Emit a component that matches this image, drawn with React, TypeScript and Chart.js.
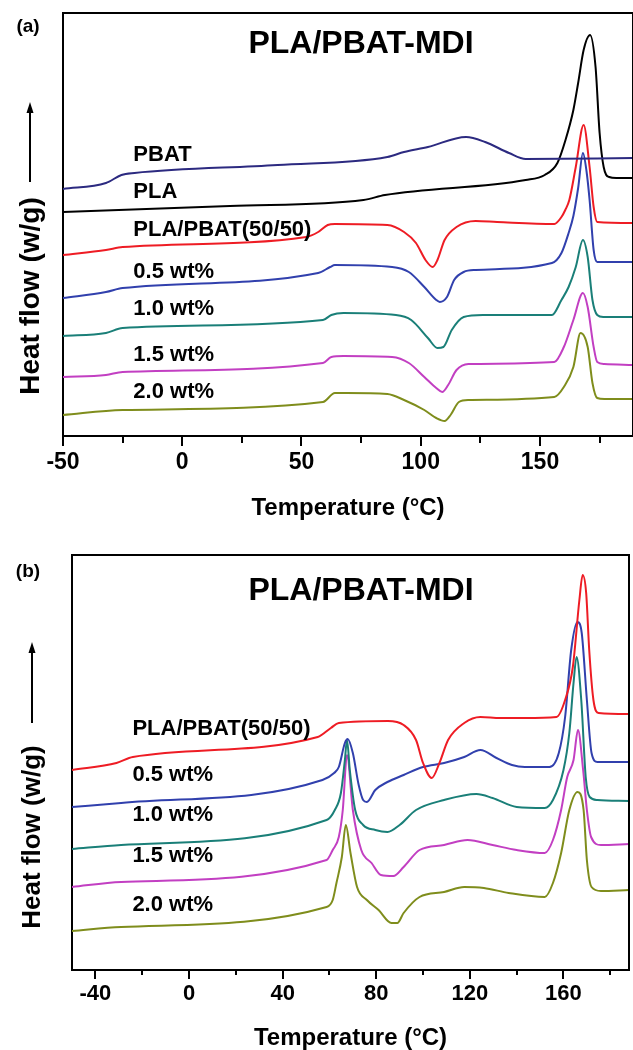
import React, { useEffect, useRef } from "react";
import { Chart, registerables } from "chart.js";

Chart.register(...registerables);

const FONT = "'Liberation Sans', Arial, Helvetica, sans-serif";

// ---------------- Panel (a): heat flow (arbitrary, offset curves) vs temperature (°C)
const A_PBAT_T = [-50, -32, -25.5, -20, 40, 86, 93, 103, 119, 127, 137, 144, 189];
const A_PBAT_H = [24.7, 25.3, 26.1, 26.3, 27.1, 27.9, 28.4, 28.9, 29.9, 29.4, 28.3, 27.7, 27.8];

const A_PLA_T = [-50, 20, 76, 85, 144, 152, 157.3, 160.7, 164, 166, 168.3, 171, 173.3, 175, 176.7, 179, 182, 189];
const A_PLA_H = [22.4, 23.0, 23.6, 24.1, 25.6, 26.1, 27.3, 29.6, 32.6, 35.3, 38.6, 40.1, 36.9, 30.3, 26.9, 25.9, 25.8, 25.8];

const A_BLEND_T = [-50, -32, -25, 52, 57, 61, 64, 86, 93, 98, 102, 105, 107, 110, 115, 123, 132, 156, 159, 160.6, 162.3, 165, 168.3, 170.8, 172.5, 174, 189];
const A_BLEND_H = [18.1, 18.6, 18.9, 19.9, 20.4, 21.1, 21.2, 21.1, 20.4, 19.3, 17.6, 16.9, 17.6, 19.6, 20.9, 21.5, 21.4, 21.2, 21.9, 22.6, 23.6, 26.9, 31.1, 26.9, 22.9, 21.4, 21.3];

const A_W05_T = [-50, -32, -25, 57, 62, 64, 88, 95, 101.5, 106.5, 108, 111, 114, 118, 123, 155, 159, 162, 164, 166, 168, 169.5, 170.8, 172.5, 174, 189];
const A_W05_H = [13.8, 14.4, 14.8, 16.3, 16.9, 17.1, 16.9, 16.4, 14.9, 13.6, 13.4, 13.9, 15.6, 16.4, 16.6, 17.3, 18.3, 20.3, 22.0, 24.8, 28.3, 26.5, 23.6, 18.6, 17.4, 17.4];

const A_W10_T = [-50, -32, -25, 59, 62.5, 67.6, 89.6, 96, 103, 107, 109.5, 113, 118, 126, 155, 159, 162, 165, 168, 170, 172, 174, 176.5, 189];
const A_W10_H = [10.0, 10.3, 10.8, 11.6, 12.1, 12.3, 12.1, 11.6, 9.8, 8.8, 8.9, 10.6, 11.9, 12.1, 12.1, 13.6, 14.9, 16.9, 19.6, 17.9, 13.6, 12.1, 11.9, 11.9];

const A_W15_T = [-50, -32, -25, 59, 62.5, 67.6, 88, 95, 101.5, 106.5, 109, 111.5, 115, 120, 156, 160, 164, 168, 170, 172.5, 174, 177, 189];
const A_W15_H = [5.9, 6.1, 6.4, 7.3, 7.9, 8.0, 7.9, 7.3, 5.9, 4.8, 4.4, 5.1, 6.6, 7.2, 7.4, 8.9, 11.6, 14.3, 12.9, 8.9, 7.4, 7.2, 7.1];

const A_W20_T = [-50, -25, 59, 64, 69, 86, 93, 101.5, 106.5, 110, 112.5, 116, 120, 156, 160, 164, 167, 170, 172, 174, 177, 189];
const A_W20_H = [2.1, 2.6, 3.4, 4.3, 4.3, 4.2, 3.6, 2.6, 1.8, 1.5, 2.1, 3.4, 3.6, 3.9, 4.9, 6.9, 10.3, 8.9, 5.3, 3.8, 3.7, 3.7];

const A_LABELS = ["PBAT", "PLA", "PLA/PBAT(50/50)", "0.5 wt%", "1.0 wt%", "1.5 wt%", "2.0 wt%"];
const A_X_MAJOR = 50;
const A_X_STEP = 25;

// ---------------- Panel (b)
const B_BLEND_T = [-50, -31, -24, 55, 60.6, 64, 85, 91.7, 97, 100, 103.7, 107, 110.7, 117.6, 124.5, 133, 143.5, 157, 160.7, 164, 166.8, 168.2, 169.7, 171, 172.8, 175, 188];
const B_BLEND_H = [20.0, 20.7, 21.3, 23.3, 24.2, 24.7, 24.9, 24.5, 23.0, 20.7, 19.2, 20.7, 23.0, 24.7, 25.3, 25.2, 25.2, 25.3, 27.0, 30.3, 37.0, 39.5, 37.7, 32.0, 27.0, 25.7, 25.6];

const B_W05_T = [-50, -29, 57, 62, 64, 66.6, 67.8, 70, 72.5, 74.4, 76, 79.6, 84.8, 91.7, 100, 109, 117.6, 124.5, 131.4, 138, 143.5, 154, 158, 160.7, 163.3, 166, 167.8, 170, 172, 174.5, 188];
const B_W05_H = [16.3, 16.7, 19.0, 19.7, 20.3, 22.7, 23.1, 21.7, 18.5, 17.0, 16.8, 18.0, 18.8, 19.5, 20.3, 20.7, 21.3, 22.0, 21.2, 20.5, 20.3, 20.3, 21.7, 25.3, 32.0, 34.8, 33.7, 27.0, 21.7, 20.8, 20.8];

const B_W10_T = [-50, -29, 58.8, 62.3, 64.9, 66.6, 67.5, 68.7, 71, 74.4, 79.6, 84.8, 90, 97, 109, 122.8, 129.7, 140, 152, 155.5, 160, 162.5, 164.3, 165.6, 167.6, 169.5, 171.2, 174.5, 188];
const B_W10_H = [12.1, 12.5, 15.0, 16.0, 17.7, 21.0, 23.0, 20.0, 16.0, 14.5, 14.0, 13.8, 14.5, 16.0, 17.0, 17.6, 17.2, 16.3, 16.2, 17.0, 20.0, 23.7, 28.7, 31.3, 27.0, 19.3, 17.3, 17.0, 16.9];

const B_W15_T = [-50, -29, 58.8, 61.4, 64, 65.7, 67.5, 70, 73.6, 78, 82, 87.3, 91.7, 98.5, 109, 119, 129.7, 140, 152, 155.5, 159, 161.6, 164.3, 166.2, 168.4, 170, 171.8, 176, 188];
const B_W15_H = [8.3, 8.8, 11.0, 12.0, 13.3, 16.0, 21.5, 16.0, 12.0, 10.7, 9.5, 9.4, 10.3, 12.0, 12.5, 13.0, 12.5, 12.0, 11.7, 13.0, 16.0, 19.3, 21.0, 24.0, 20.0, 16.0, 13.3, 12.5, 12.6];

const B_W20_T = [-50, -29, 58.8, 61.4, 63, 65.3, 67, 69, 71.8, 76, 81, 86.5, 89, 91.7, 98.5, 109, 117.6, 126, 136.6, 152, 155.5, 159, 162.5, 166, 168.6, 170, 172, 176, 188];
const B_W20_H = [3.9, 4.3, 6.3, 7.0, 8.7, 11.3, 14.5, 11.7, 8.3, 7.0, 6.0, 4.7, 4.7, 5.7, 7.3, 7.8, 8.3, 8.2, 7.7, 7.3, 8.7, 11.7, 16.0, 17.8, 16.0, 11.0, 8.3, 7.9, 8.0];

const B_LABELS = ["PLA/PBAT(50/50)", "0.5 wt%", "1.0 wt%", "1.5 wt%", "2.0 wt%"];
const B_X_MAJOR = 40;
const B_X_STEP = 20;

const TITLE = "PLA/PBAT-MDI";
const X_TITLE = "Temperature (°C)";
const Y_TITLE = "Heat flow (w/g)";

// ---------------- styles / positions (not data)
const C_PBAT = "#2c2a80";
const C_PLA = "#000000";
const C_BLEND = "#ee1c24";
const C_W05 = "#3140ad";
const C_W10 = "#1a7f78";
const C_W15 = "#c23fc2";
const C_W20 = "#7f8d1c";

const A_LABEL_POS = [
  [-20.5, 28.1], [-20.5, 24.4], [-20.5, 20.6], [-20.5, 16.4], [-20.5, 12.7], [-20.5, 8.1], [-20.5, 4.4],
];
const B_LABEL_POS = [
  [-24.2, 24.1], [-24.2, 19.5], [-24.2, 15.5], [-24.2, 11.4], [-24.2, 6.5],
];

const zip = (t: number[], h: number[]) => t.map((x, i) => ({ x, y: h[i] }));

function makeDatasets(series: { t: number[]; h: number[]; label: string; color: string }[]) {
  return series.map((s) => ({
    label: s.label,
    data: zip(s.t, s.h),
    borderColor: s.color,
    backgroundColor: s.color,
    borderWidth: 2,
    pointRadius: 0,
    fill: false,
    cubicInterpolationMode: "monotone" as const,
    tension: 0.4,
  }));
}

const PANEL_A = {
  top: 0,
  height: 530,
  padding: { left: 63, top: 13, right: 0, bottom: 0 },
  xAxisHeight: 94,
  xMin: -50,
  xMax: 189,
  yMax: 42.3,
  step: A_X_STEP,
  major: A_X_MAJOR,
  tickLen: 10,
  minorLen: 7,
  tickFont: 23,
  tickPad: 3,
  xTitlePad: 10,
  letter: "(a)",
  letterPos: [28, 27],
  titlePos: [361, 44],
  yTitlePos: [31, 296],
  yTitleSize: 28,
  arrow: [30, 102, 182],
  labelPos: A_LABEL_POS,
  datasets: makeDatasets([
    { t: A_PBAT_T, h: A_PBAT_H, label: A_LABELS[0], color: C_PBAT },
    { t: A_PLA_T, h: A_PLA_H, label: A_LABELS[1], color: C_PLA },
    { t: A_BLEND_T, h: A_BLEND_H, label: A_LABELS[2], color: C_BLEND },
    { t: A_W05_T, h: A_W05_H, label: A_LABELS[3], color: C_W05 },
    { t: A_W10_T, h: A_W10_H, label: A_LABELS[4], color: C_W10 },
    { t: A_W15_T, h: A_W15_H, label: A_LABELS[5], color: C_W15 },
    { t: A_W20_T, h: A_W20_H, label: A_LABELS[6], color: C_W20 },
  ]),
};

const PANEL_B = {
  top: 530,
  height: 520,
  padding: { left: 72, top: 25, right: 4, bottom: 0 },
  xAxisHeight: 80,
  xMin: -50,
  xMax: 188,
  yMax: 41.5,
  step: B_X_STEP,
  major: B_X_MAJOR,
  tickLen: 9,
  minorLen: 5,
  tickFont: 22,
  tickPad: 2,
  xTitlePad: 0,
  letter: "(b)",
  letterPos: [28, 42],
  titlePos: [361, 61],
  yTitlePos: [33, 307],
  yTitleSize: 26,
  arrow: [32, 112, 193],
  labelPos: B_LABEL_POS,
  datasets: makeDatasets([
    { t: B_BLEND_T, h: B_BLEND_H, label: B_LABELS[0], color: C_BLEND },
    { t: B_W05_T, h: B_W05_H, label: B_LABELS[1], color: C_W05 },
    { t: B_W10_T, h: B_W10_H, label: B_LABELS[2], color: C_W10 },
    { t: B_W15_T, h: B_W15_H, label: B_LABELS[3], color: C_W15 },
    { t: B_W20_T, h: B_W20_H, label: B_LABELS[4], color: C_W20 },
  ]),
};

type PanelCfg = typeof PANEL_A;

function decoPlugin(p: PanelCfg) {
  return {
    id: "deco",
    afterDraw(chart: any) {
      const { ctx, chartArea: ca } = chart;
      const xs = chart.scales.x;
      const ys = chart.scales.y;
      ctx.save();
      ctx.strokeStyle = "#000";
      ctx.fillStyle = "#000";
      ctx.lineWidth = 2;
      // frame top and right
      ctx.beginPath();
      ctx.moveTo(ca.left - 1, ca.top);
      ctx.lineTo(ca.right, ca.top);
      ctx.lineTo(ca.right, ca.bottom);
      ctx.stroke();
      // minor ticks
      xs.ticks.forEach((t: any) => {
        if (Math.abs(t.value % p.major) > 1e-9) {
          const px = Math.round(xs.getPixelForValue(t.value));
          ctx.beginPath();
          ctx.moveTo(px, ca.bottom);
          ctx.lineTo(px, ca.bottom + p.minorLen);
          ctx.stroke();
        }
      });
      // panel letter
      ctx.font = `bold 19px ${FONT}`;
      ctx.textAlign = "center";
      ctx.textBaseline = "middle";
      ctx.fillText(p.letter, p.letterPos[0], p.letterPos[1]);
      // title
      ctx.font = `bold 32px ${FONT}`;
      ctx.fillText(TITLE, p.titlePos[0], p.titlePos[1]);
      // y title
      ctx.save();
      ctx.translate(p.yTitlePos[0], p.yTitlePos[1]);
      ctx.rotate(-Math.PI / 2);
      ctx.font = `bold ${p.yTitleSize}px ${FONT}`;
      ctx.fillText(Y_TITLE, 0, 0);
      ctx.restore();
      // arrow
      const [ax, atop, abot] = p.arrow;
      ctx.beginPath();
      ctx.moveTo(ax, abot);
      ctx.lineTo(ax, atop + 8);
      ctx.stroke();
      ctx.beginPath();
      ctx.moveTo(ax, atop);
      ctx.lineTo(ax - 3.5, atop + 11);
      ctx.lineTo(ax + 3.5, atop + 11);
      ctx.closePath();
      ctx.fill();
      // series labels
      ctx.font = `bold 22px ${FONT}`;
      ctx.textAlign = "left";
      chart.data.datasets.forEach((ds: any, i: number) => {
        const pos = p.labelPos[i];
        ctx.fillText(ds.label, xs.getPixelForValue(pos[0]), ys.getPixelForValue(pos[1]));
      });
      ctx.restore();
    },
  };
}

function Panel({ p }: { p: PanelCfg }) {
  const ref = useRef<HTMLCanvasElement>(null);
  useEffect(() => {
    if (!ref.current) return;
    const chart = new Chart(ref.current, {
      type: "line",
      data: { datasets: p.datasets as any },
      options: {
        animation: false,
        responsive: false,
        devicePixelRatio: 1,
        layout: { padding: p.padding, autoPadding: false } as any,
        plugins: { legend: { display: false }, tooltip: { enabled: false } },
        events: [],
        scales: {
          x: {
            type: "linear",
            min: p.xMin,
            max: p.xMax,
            offset: false,
            afterFit: (s: any) => {
              s.height = p.xAxisHeight;
            },
            border: { display: true, color: "#000", width: 2 },
            grid: {
              display: true,
              drawOnChartArea: false,
              drawTicks: true,
              tickLength: p.tickLen,
              color: (c: any) =>
                c.tick && Math.abs(c.tick.value % p.major) < 1e-9 ? "#000" : "rgba(0,0,0,0)",
              lineWidth: 2,
            },
            ticks: {
              stepSize: p.step,
              includeBounds: false,
              autoSkip: false,
              maxRotation: 0,
              padding: p.tickPad,
              color: "#000",
              font: { family: FONT, size: p.tickFont, weight: "bold" },
              callback: (v: any) => (Math.abs(Number(v) % p.major) < 1e-9 ? String(v) : ""),
            },
            title: {
              display: true,
              text: X_TITLE,
              color: "#000",
              font: { family: FONT, size: 24, weight: "bold", lineHeight: 1 },
              padding: { top: 0, bottom: p.xTitlePad },
            },
          },
          y: {
            type: "linear",
            min: 0,
            max: p.yMax,
            afterFit: (s: any) => {
              s.width = 0;
            },
            border: { display: true, color: "#000", width: 2 },
            grid: { display: false, drawTicks: false },
            ticks: { display: false },
            title: { display: false },
          },
        },
      } as any,
      plugins: [decoPlugin(p)],
    });
    return () => chart.destroy();
  }, [p]);
  return (
    <canvas
      ref={ref}
      width={633}
      height={p.height}
      style={{ position: "absolute", left: 0, top: p.top, width: 633, height: p.height, display: "block" }}
    />
  );
}

export default function App() {
  return (
    <div style={{ position: "absolute", left: 0, top: 0, width: 633, height: 1050, background: "#fff", overflow: "hidden" }}>
      <Panel p={PANEL_A} />
      <Panel p={PANEL_B} />
    </div>
  );
}
